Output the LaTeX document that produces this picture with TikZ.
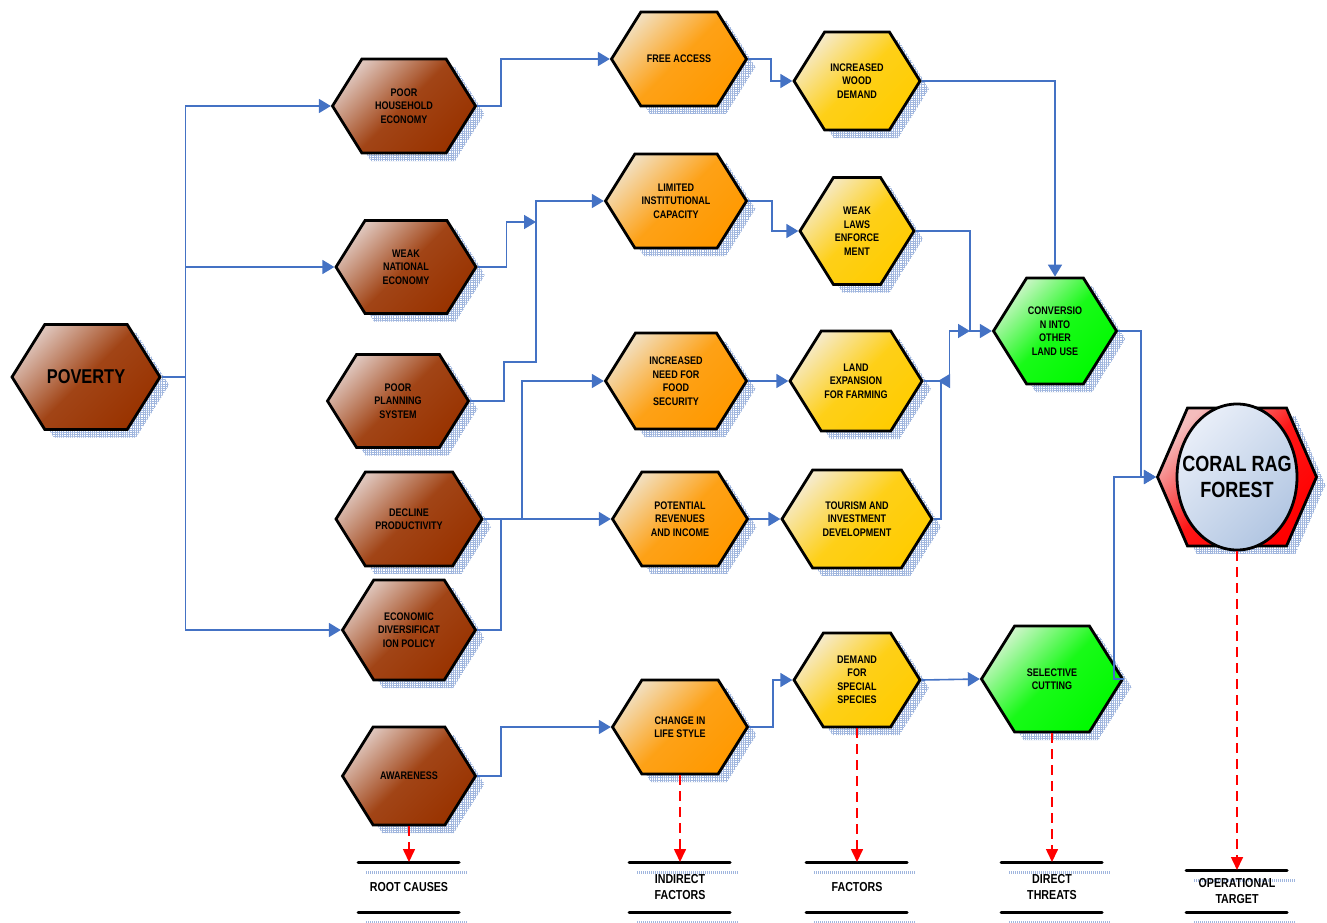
\documentclass[tikz,border=0pt]{standalone}
\usepackage{fontspec}
\setmainfont{Liberation Sans}
\newfontfamily\narrowfont[FakeStretch=0.82]{Liberation Sans}
\usetikzlibrary{shapes.symbols,shapes.geometric,shadows,patterns.meta,arrows.meta}

\definecolor{flowblue}{RGB}{68,114,196}
\definecolor{hatchblue}{RGB}{160,182,222}
\definecolor{brownlt}{RGB}{222,196,186}
\definecolor{browndk}{RGB}{153,51,0}
\definecolor{orangelt}{RGB}{242,222,188}
\definecolor{orangedk}{RGB}{255,153,0}
\definecolor{yellowlt}{RGB}{246,234,200}
\definecolor{yellowdk}{RGB}{255,204,0}
\definecolor{greenlt}{RGB}{204,246,200}
\definecolor{greendk}{RGB}{0,250,0}
\definecolor{redlt}{RGB}{244,188,188}
\definecolor{reddk}{RGB}{255,0,0}
\definecolor{ovallt}{RGB}{232,238,248}
\definecolor{ovaldk}{RGB}{178,198,226}

\tikzset{
  hexa/.style={signal, signal to=west and east, signal pointer angle=116,
    draw=black, line width=2.8pt, inner sep=1pt, align=center,
    font=\narrowfont\bfseries\fontsize{11}{13.5}\selectfont,
    drop shadow={shadow xshift=9pt, shadow yshift=-8pt, opacity=1,
      pattern={Hatch[angle=0,distance=2.2pt,line width=0.8pt]}, pattern color=hatchblue}},
  brownhex/.style={hexa, top color=brownlt, bottom color=browndk,
    middle color=browndk!88!brownlt, shading angle=45},
  orangehex/.style={hexa, top color=orangelt, bottom color=orangedk,
    middle color=orangedk!88!orangelt, shading angle=45},
  yellowhex/.style={hexa, top color=yellowlt, bottom color=yellowdk,
    middle color=yellowdk!88!yellowlt, shading angle=45},
  greenhex/.style={hexa, top color=greenlt, bottom color=greendk,
    middle color=greendk!88!greenlt, shading angle=45},
  redhex/.style={hexa, top color=redlt, bottom color=reddk,
    middle color=reddk!88!redlt, shading angle=45},
  oval/.style={ellipse, draw=black, line width=2.8pt, inner xsep=-17pt, inner ysep=0pt,
    align=center, top color=ovallt, bottom color=ovaldk, shading angle=45,
    font=\narrowfont\bfseries\fontsize{22}{26}\selectfont},
  flow/.style={draw=flowblue, line width=1.6pt, -{Triangle[length=12pt,width=14pt]}},
  link/.style={draw=flowblue, line width=1.6pt},
  down/.style={draw=red, line width=1.6pt, dash pattern=on 10pt off 6pt,
    -{Triangle[length=13pt,width=12pt]}},
  bar/.style={line width=3pt, line cap=round},
  barshadow/.style={draw=hatchblue, line width=3pt, dash pattern=on 1pt off 1pt},
  tag/.style={align=center, inner sep=0pt,
    font=\narrowfont\bfseries\fontsize{13}{16}\selectfont}
}

\begin{document}
\begin{tikzpicture}[x=1pt,y=-1pt]
\useasboundingbox (0,0) rectangle (1327,923);

% root causes
\node[brownhex, minimum width=148pt, minimum height=105pt,
  font=\narrowfont\bfseries\fontsize{20}{24}\selectfont] (pov) at (86,377) {POVERTY};
\node[brownhex, minimum width=143pt, minimum height=94pt] (phe) at (404,106) {POOR\\HOUSEHOLD\\ECONOMY};
\node[brownhex, minimum width=140pt, minimum height=93pt] (wne) at (406,267) {WEAK\\NATIONAL\\ECONOMY};
\node[brownhex, minimum width=141pt, minimum height=93pt] (pps) at (398,401) {POOR\\PLANNING\\SYSTEM};
\node[brownhex, minimum width=146pt, minimum height=94pt] (dp) at (409,519) {DECLINE\\PRODUCTIVITY};
\node[brownhex, minimum width=133pt, minimum height=100pt] (edp) at (409,630) {ECONOMIC\\DIVERSIFICAT\\ION POLICY};
\node[brownhex, minimum width=133pt, minimum height=98pt] (aw) at (409,776) {AWARENESS};

% indirect factors
\node[orangehex, minimum width=135pt, minimum height=94pt] (fa) at (679,59) {FREE ACCESS};
\node[orangehex, minimum width=141pt, minimum height=94pt] (lic) at (676,201) {LIMITED\\INSTITUTIONAL\\CAPACITY};
\node[orangehex, minimum width=141pt, minimum height=96pt] (inf) at (676,381) {INCREASED\\NEED FOR\\FOOD\\SECURITY};
\node[orangehex, minimum width=135pt, minimum height=94pt] (pr) at (680,519) {POTENTIAL\\REVENUES\\AND INCOME};
\node[orangehex, minimum width=135pt, minimum height=94pt] (cls) at (680,727) {CHANGE IN\\LIFE STYLE};

% factors
\node[yellowhex, minimum width=126pt, minimum height=98pt] (iwd) at (857,81) {INCREASED\\WOOD\\DEMAND};
\node[yellowhex, minimum width=114pt, minimum height=107pt] (wle) at (857,231) {WEAK\\LAWS\\ENFORCE\\MENT};
\node[yellowhex, minimum width=132pt, minimum height=100pt] (lef) at (856,381) {LAND\\EXPANSION\\FOR FARMING};
\node[yellowhex, minimum width=150pt, minimum height=98pt] (tid) at (857,519) {TOURISM AND\\INVESTMENT\\DEVELOPMENT};
\node[yellowhex, minimum width=126pt, minimum height=94pt] (dss) at (857,680) {DEMAND\\FOR\\SPECIAL\\SPECIES};

% direct threats
\node[greenhex, minimum width=123pt, minimum height=106pt] (cil) at (1055,331) {CONVERSIO\\N INTO\\OTHER\\LAND USE};
\node[greenhex, minimum width=141pt, minimum height=106pt] (sc) at (1052,679) {SELECTIVE\\CUTTING};

% target
\node[redhex, minimum width=159pt, minimum height=138pt, signal pointer angle=133] (crf) at (1237,477) {};
\node[oval, minimum width=120pt, minimum height=146pt] (crfo) at (1237,477) {CORAL RAG\\FOREST};

% links between the levels
\draw[flow] (pov.east) -- ++(24,0) coordinate (trunk) |- (phe.west);
\draw[flow] (trunk) |- (wne.west);
\draw[flow] (trunk) |- (edp.west);

\draw[flow] (phe.east) -- ++(24,0) |- (fa.west);
\coordinate (jlic) at (536,222);
\coordinate (jpps) at (536,362);
\draw[flow] (wne.east) -- ++(29,0) |- (jlic);
\draw[flow] (pps.east) -- ++(34,0) |- (jpps) |- (lic.west);
\draw[flow] (dp.east) -- (pr.west);
\coordinate (jdp) at (522,519);
\draw[flow] (jdp) |- (inf.west);
\draw[link] (edp.east) -- ++(24,0) |- (dp.east);
\draw[flow] (aw.east) -- ++(24,0) |- (cls.west);

\draw[flow] (fa.east) -- ++(23,0) |- (iwd.west);
\draw[flow] (lic.east) -- ++(24,0) |- (wle.west);
\draw[flow] (inf.east) -- (lef.west);
\draw[flow] (pr.east) -- (tid.west);
\draw[flow] (cls.east) -- ++(24,0) |- (dss.west);

\coordinate (jcil) at (970,331);
\coordinate (jlef) at (941,381);
\draw[flow] (iwd.east) -| (cil.north);
\draw[flow] (wle.east) -| (jcil) -- (cil.west);
\draw[flow] (lef.east) -- ++(26,0) |- (jcil);
\draw[flow] (tid.east) -| (jlef) -- ++(-3,0);
\draw[flow] (dss.east) -- (sc.west);

\draw[flow] (cil.east) -- ++(23,0) |- (crf.west);
\draw[flow] (sc.east) -- ++(-10,0) |- (crf.west);

% legend bars
\foreach \name/\x/\ytop in {rc/409/862,ifc/680/862,fc/857/862,dt/1052/862,ot/1237/870}{
  \coordinate (\name) at (\x,\ytop);
  \foreach \y in {\ytop,912}{
    \draw[barshadow] (\x-43,\y+10) -- (\x+58,\y+10);
    \draw[bar] (\x-51,\y) -- (\x+50,\y);
  }
}
\node[tag] (rct) at (409,887) {ROOT CAUSES};
\node[tag] (ifct) at (680,887) {INDIRECT\\FACTORS};
\node[tag] (fct) at (857,887) {FACTORS};
\node[tag] (dtt) at (1052,887) {DIRECT\\THREATS};
\node[tag] (ott) at (1237,891) {OPERATIONAL\\TARGET};

\draw[down] (aw.south) -- (rc);
\draw[down] (cls.south) -- (ifc);
\draw[down] (dss.south) -- (fc);
\draw[down] (sc.south) -- (dt);
\draw[down] (crfo.south) -- (ot);
\end{tikzpicture}
\end{document}
